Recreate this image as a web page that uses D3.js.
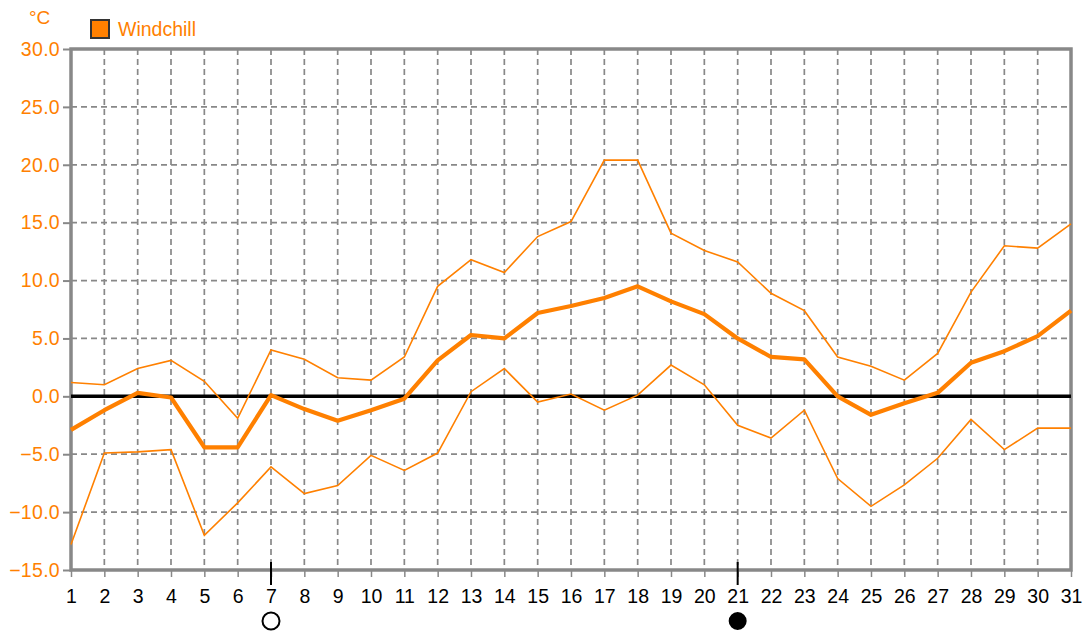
<!DOCTYPE html>
<html><head><meta charset="utf-8">
<script src="https://cdn.jsdelivr.net/npm/d3@7"></script>
<style>body{margin:0;background:#fff;}svg{display:block;}</style>
</head><body>
<svg id="chart" width="1085" height="632"></svg>
<script>
const days = d3.range(1, 32);
const yTicks = [-15, -10, -5, 0, 5, 10, 15, 20, 25, 30];
const windchillMean = [-2.9, -1.2, 0.3, -0.1, -4.4, -4.4, 0.1, -1.1, -2.1, -1.2, -0.2, 3.1, 5.3, 5.0, 7.2, 7.8, 8.5, 9.5, 8.2, 7.1, 5.0, 3.4, 3.2, 0.0, -1.6, -0.6, 0.3, 2.9, 3.9, 5.2, 7.4];
const windchillMax = [1.2, 1.0, 2.4, 3.1, 1.3, -1.9, 4.0, 3.2, 1.6, 1.4, 3.4, 9.5, 11.8, 10.7, 13.8, 15.1, 20.4, 20.4, 14.1, 12.6, 11.6, 8.9, 7.4, 3.4, 2.6, 1.4, 3.7, 9.0, 13.0, 12.8, 14.9];
const windchillMin = [-12.8, -4.9, -4.8, -4.6, -12.0, -9.2, -6.1, -8.4, -7.7, -5.1, -6.4, -4.9, 0.4, 2.4, -0.5, 0.2, -1.2, 0.1, 2.7, 1.0, -2.5, -3.6, -1.2, -7.1, -9.5, -7.65, -5.35, -2.0, -4.6, -2.75, -2.75];
const moonPhases = [{day: 7, type: "full"}, {day: 21, type: "new"}];

const svg = d3.select("#chart");
const L = 71, R = 1071, T = 49, B = 570;
const x = d3.scaleLinear().domain([1, 31]).range([L, R]);
const y = d3.scaleLinear().domain([-15, 30]).range([B, T]);
const orange = "#ff8000";
const font = "'Liberation Sans', Arial, sans-serif";

// grid
const g = svg.append("g");
g.selectAll("line.v").data(days.slice(1, -1)).join("line")
  .attr("x1", d => x(d)).attr("x2", d => x(d)).attr("y1", T).attr("y2", B)
  .attr("stroke", "#888").attr("stroke-width", 1.7).attr("stroke-dasharray", "6,4");
g.selectAll("line.h").data(yTicks.filter(d => d > -15 && d < 30 && d !== 0)).join("line")
  .attr("x1", L).attr("x2", R).attr("y1", d => y(d)).attr("y2", d => y(d))
  .attr("stroke", "#888").attr("stroke-width", 1.7).attr("stroke-dasharray", "6,4");

// y axis
const yAxis = d3.axisLeft(y).tickValues(yTicks).tickFormat(d3.format(".1f")).tickSize(8).tickPadding(3);
const ya = svg.append("g").attr("transform", `translate(${L},0)`).call(yAxis);
ya.select(".domain").remove();
ya.selectAll("line").attr("stroke", "#888").attr("stroke-width", 2);
ya.selectAll("text").attr("fill", orange).style("font-family", font).style("font-size", "19.5px").style("letter-spacing", "0.3px");

// x axis
const xAxis = d3.axisBottom(x).tickValues(days).tickFormat(d3.format("d")).tickSize(7).tickPadding(12);
const xa = svg.append("g").attr("transform", `translate(0,${B})`).call(xAxis);
xa.select(".domain").remove();
xa.selectAll("line").attr("stroke", "#888").attr("stroke-width", 1.5);
xa.selectAll("text").attr("fill", "#000").style("font-family", font).style("font-size", "19.5px");

// frame
svg.append("rect").attr("x", L).attr("y", T).attr("width", R - L).attr("height", B - T)
  .attr("fill", "none").attr("stroke", "#888").attr("stroke-width", 3.5);

// zero line
svg.append("line").attr("x1", L).attr("x2", R).attr("y1", y(0)).attr("y2", y(0))
  .attr("stroke", "#000").attr("stroke-width", 3.5);

// series
const line = d3.line().x((d, i) => x(days[i])).y(d => y(d));
svg.append("path").datum(windchillMax).attr("d", line).attr("fill", "none").attr("stroke", orange).attr("stroke-width", 1.6);
svg.append("path").datum(windchillMin).attr("d", line).attr("fill", "none").attr("stroke", orange).attr("stroke-width", 1.6);
svg.append("path").datum(windchillMean).attr("d", line).attr("fill", "none").attr("stroke", orange).attr("stroke-width", 4.2).attr("stroke-linejoin", "round");

// moon markers
moonPhases.forEach(m => {
  svg.append("line").attr("x1", x(m.day)).attr("x2", x(m.day)).attr("y1", B - 8).attr("y2", B + 15)
    .attr("stroke", "#000").attr("stroke-width", 2);
  svg.append("circle").attr("cx", x(m.day)).attr("cy", 621).attr("r", m.type === "full" ? 8.5 : 8)
    .attr("fill", m.type === "full" ? "#fff" : "#000").attr("stroke", "#000").attr("stroke-width", 2);
});

// unit + legend
svg.append("text").attr("x", 29).attr("y", 24).text("°C").attr("fill", orange)
  .style("font-family", font).style("font-size", "19px");
svg.append("rect").attr("x", 91).attr("y", 20).attr("width", 18).attr("height", 18)
  .attr("fill", orange).attr("stroke", "#333").attr("stroke-width", 2);
svg.append("text").attr("x", 118).attr("y", 36).text("Windchill").attr("fill", orange)
  .style("font-family", font).style("font-size", "19.5px");
</script>
</body></html>
